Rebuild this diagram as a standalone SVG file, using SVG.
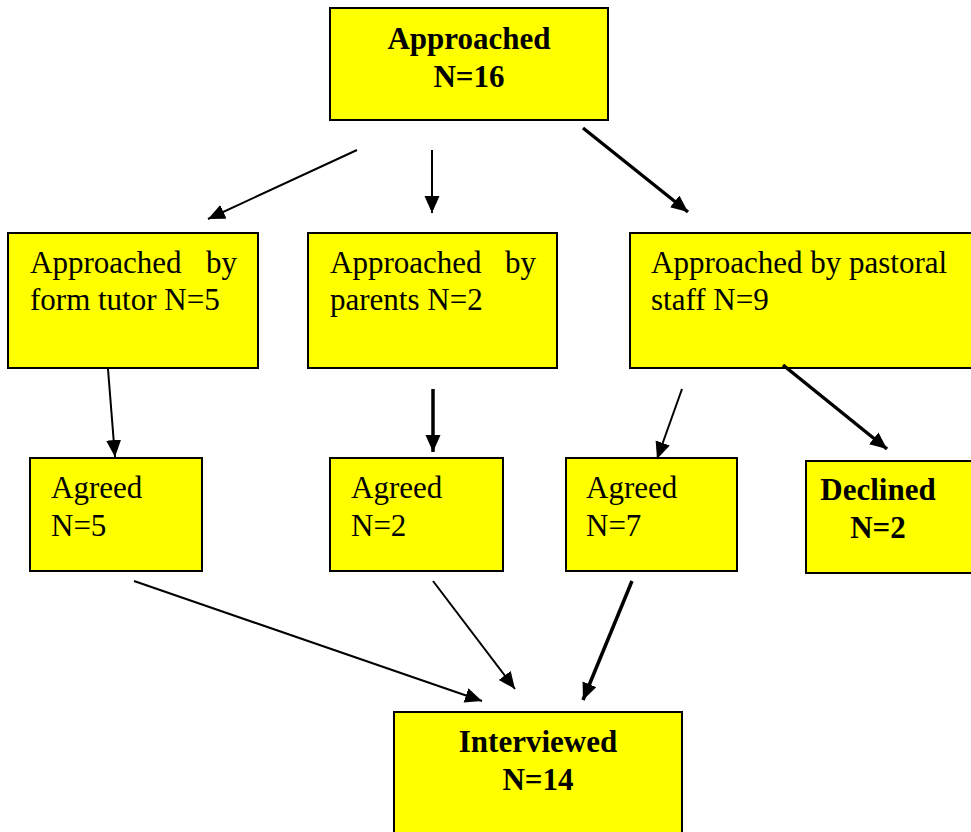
<svg xmlns="http://www.w3.org/2000/svg" width="971" height="832" viewBox="0 0 971 832">
<style>
.box{fill:#FFFF00;stroke:#000;stroke-width:2}
.t{font-family:"Liberation Serif","Times New Roman",serif;font-size:31px;fill:#000}
.b{font-weight:bold;text-anchor:middle}
.thin{stroke:#000;stroke-width:2;fill:none;marker-end:url(#ah)}
.thick{stroke:#000;stroke-width:3.5;fill:none;marker-end:url(#ah)}
</style>
<defs>
<marker id="ah" markerUnits="userSpaceOnUse" markerWidth="18" markerHeight="16" refX="17" refY="7.5" orient="auto">
<path d="M0,0 L17,7.5 L0,15 z" fill="#000"/>
</marker>
</defs>
<rect width="971" height="832" fill="#fff"/>
<g id="approached">
<rect class="box" x="330" y="8" width="278" height="112"/>
<text class="t b" x="469" y="49">Approached</text>
<text class="t b" x="469" y="87">N=16</text>
</g>
<g id="tutor">
<rect class="box" x="8" y="233" width="250" height="135"/>
<text class="t" x="30" y="273">Approached</text>
<text class="t" x="206" y="273">by</text>
<text class="t" x="30" y="310">form tutor N=5</text>
</g>
<g id="parents">
<rect class="box" x="308" y="233" width="249" height="135"/>
<text class="t" x="330" y="273">Approached</text>
<text class="t" x="505" y="273">by</text>
<text class="t" x="330" y="310">parents N=2</text>
</g>
<g id="pastoral">
<rect class="box" x="630" y="233" width="345" height="135"/>
<text class="t" x="651" y="273">Approached by pastoral</text>
<text class="t" x="651" y="310">staff N=9</text>
</g>
<g id="agreed5">
<rect class="box" x="30" y="458" width="172" height="113"/>
<text class="t" x="51" y="498">Agreed</text>
<text class="t" x="51" y="536">N=5</text>
</g>
<g id="agreed2">
<rect class="box" x="330" y="458" width="173" height="113"/>
<text class="t" x="351" y="498">Agreed</text>
<text class="t" x="351" y="536">N=2</text>
</g>
<g id="agreed7">
<rect class="box" x="566" y="458" width="171" height="113"/>
<text class="t" x="586" y="498">Agreed</text>
<text class="t" x="586" y="536">N=7</text>
</g>
<g id="declined">
<rect class="box" x="806" y="461" width="170" height="112"/>
<text class="t b" x="878" y="500">Declined</text>
<text class="t b" x="878" y="538">N=2</text>
</g>
<g id="interviewed">
<rect class="box" x="394" y="712" width="288" height="130"/>
<text class="t b" x="538" y="752">Interviewed</text>
<text class="t b" x="538" y="790">N=14</text>
</g>
<g id="connectors">
<line class="thin" x1="357" y1="150" x2="208" y2="219"/>
<line class="thin" x1="432" y1="150" x2="432" y2="213"/>
<line class="thick" x1="583" y1="128" x2="688" y2="212"/>
<line class="thin" x1="108" y1="369" x2="115" y2="457"/>
<line class="thick" x1="433" y1="389" x2="433" y2="452"/>
<line class="thin" x1="682" y1="389" x2="657" y2="459"/>
<line class="thick" x1="783" y1="365" x2="887" y2="449"/>
<line class="thin" x1="134" y1="581" x2="482" y2="701"/>
<line class="thin" x1="433" y1="581" x2="515" y2="689"/>
<line class="thick" x1="632" y1="581" x2="583" y2="700"/>
</g>
</svg>
